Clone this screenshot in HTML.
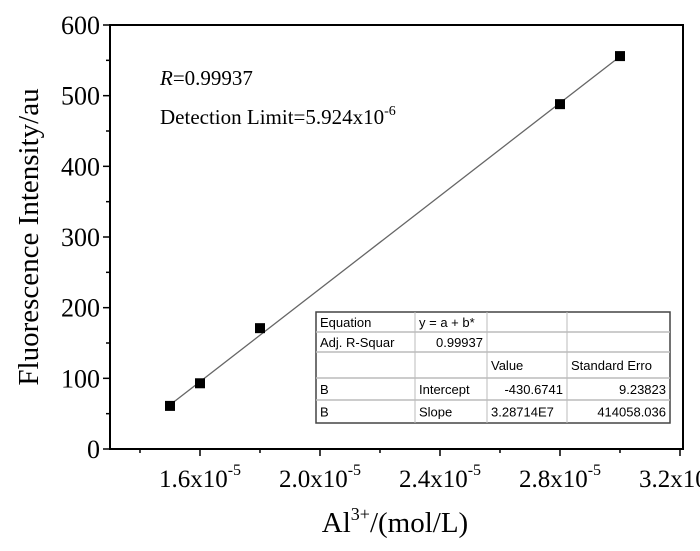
<!DOCTYPE html>
<html><head><meta charset="utf-8"><style>
body{margin:0;background:#fff}
svg text{font-family:"Liberation Serif",serif}
.tb{font-family:"Liberation Sans",sans-serif;font-size:13px}
</style></head><body>
<svg width="700" height="546" xmlns="http://www.w3.org/2000/svg">
<g id="axes"></g>
<g id="marks"></g>
<text x="160" y="85" font-size="21"><tspan font-style="italic">R</tspan>=0.99937</text>
<text x="160" y="124" font-size="21">Detection Limit=5.924x10<tspan font-size="14" dy="-9">-6</tspan></text>
<g id="table"></g>
<text transform="translate(38,237) rotate(-90)" text-anchor="middle" font-size="29">Fluorescence Intensity/au</text>
<text x="395" y="532" text-anchor="middle" font-size="29">Al<tspan font-size="18" dy="-12">3+</tspan><tspan dy="12">/(mol/L)</tspan></text>
</svg>
<script>
const xs=[1.5,1.6,1.8,2.8,3.0];
const ys=[61,93,171,488,556];
const intercept=-430.6741, slope=3.28714;
const xTicks=[1.6,2.0,2.4,2.8,3.2];
const yTicks=[0,100,200,300,400,500,600];
const NS="http://www.w3.org/2000/svg";
const L=110,R=683,T=25,B=449,xmin=1.3,xmax=3.21,ymax=600;
const X=v=>L+(v-xmin)/(xmax-xmin)*(R-L);
const Y=v=>B-v/ymax*(B-T);
function mk(t,a,p){const e=document.createElementNS(NS,t);for(const k in a)e.setAttribute(k,a[k]);(p||document.getElementById('axes')).appendChild(e);return e;}
const frame=mk('rect',{x:L,y:T,width:R-L,height:B-T,fill:'none',stroke:'#000','stroke-width':2});


yTicks.forEach(v=>{
 mk('line',{x1:L-7,x2:L,y1:Y(v),y2:Y(v),stroke:'#000','stroke-width':1.5});
 if(v<600)mk('line',{x1:L-4,x2:L,y1:Y(v+50),y2:Y(v+50),stroke:'#000','stroke-width':1.5});
 const t=mk('text',{x:L-10,y:Y(v)+9,'text-anchor':'end','font-size':26});t.textContent=v;
 
 
});
xTicks.forEach(v=>{
 mk('line',{x1:X(v),x2:X(v),y1:B,y2:B+7,stroke:'#000','stroke-width':1.5});
 mk('line',{x1:X(v-0.2),x2:X(v-0.2),y1:B,y2:B+4,stroke:'#000','stroke-width':1.5});
 const t=mk('text',{x:X(v),y:B+38,'text-anchor':'middle','font-size':25});
 t.innerHTML=v.toFixed(1)+'x10<tspan font-size="16" dy="-12">-5</tspan>';
 
 
});
const mg=document.getElementById('marks');
const x0=xs[0],x1=xs[xs.length-1];
const fit=mk('line',{x1:X(x0),y1:Y(intercept+slope*100*x0),x2:X(x1),y2:Y(intercept+slope*100*x1),stroke:'#666','stroke-width':1.3},mg);


xs.forEach((v,i)=>{
 const r=mk('rect',{x:X(v)-5,y:Y(ys[i])-5,width:10,height:10,fill:'#000'},mg);
 
 
});
const tg=document.getElementById('table');
const cx=[316,415,487,567,670],ry=[312,332,352,378,400,423];
mk('rect',{x:316,y:312,width:354,height:111,fill:'#fff',stroke:'#444','stroke-width':1.5},tg);
ry.slice(1,-1).forEach(y=>mk('line',{x1:316,x2:670,y1:y,y2:y,stroke:'#bbb','stroke-width':1.5},tg));
cx.slice(1,-1).forEach(x=>mk('line',{x1:x,x2:x,y1:312,y2:423,stroke:'#bbb','stroke-width':1},tg));
const cells=[["Equation","y = a + b*","",""],["Adj. R-Squar","0.99937","",""],["","","Value","Standard Erro"],["B","Intercept","-430.6741","9.23823"],["B","Slope","3.28714E7","414058.036"]];
const align=[["s","s","s","s"],["s","e","s","s"],["s","s","s","s"],["s","s","e","e"],["s","s","s","e"]];
cells.forEach((row,i)=>row.forEach((c,j)=>{
 if(!c)return;const a=align[i][j];
 const t=mk('text',{x:a=='e'?cx[j+1]-4:cx[j]+4,y:(ry[i]+ry[i+1])/2+5,'text-anchor':a=='e'?'end':'start',class:'tb'},tg);
 t.textContent=c;
 
 
}));
</script>
</body></html>
